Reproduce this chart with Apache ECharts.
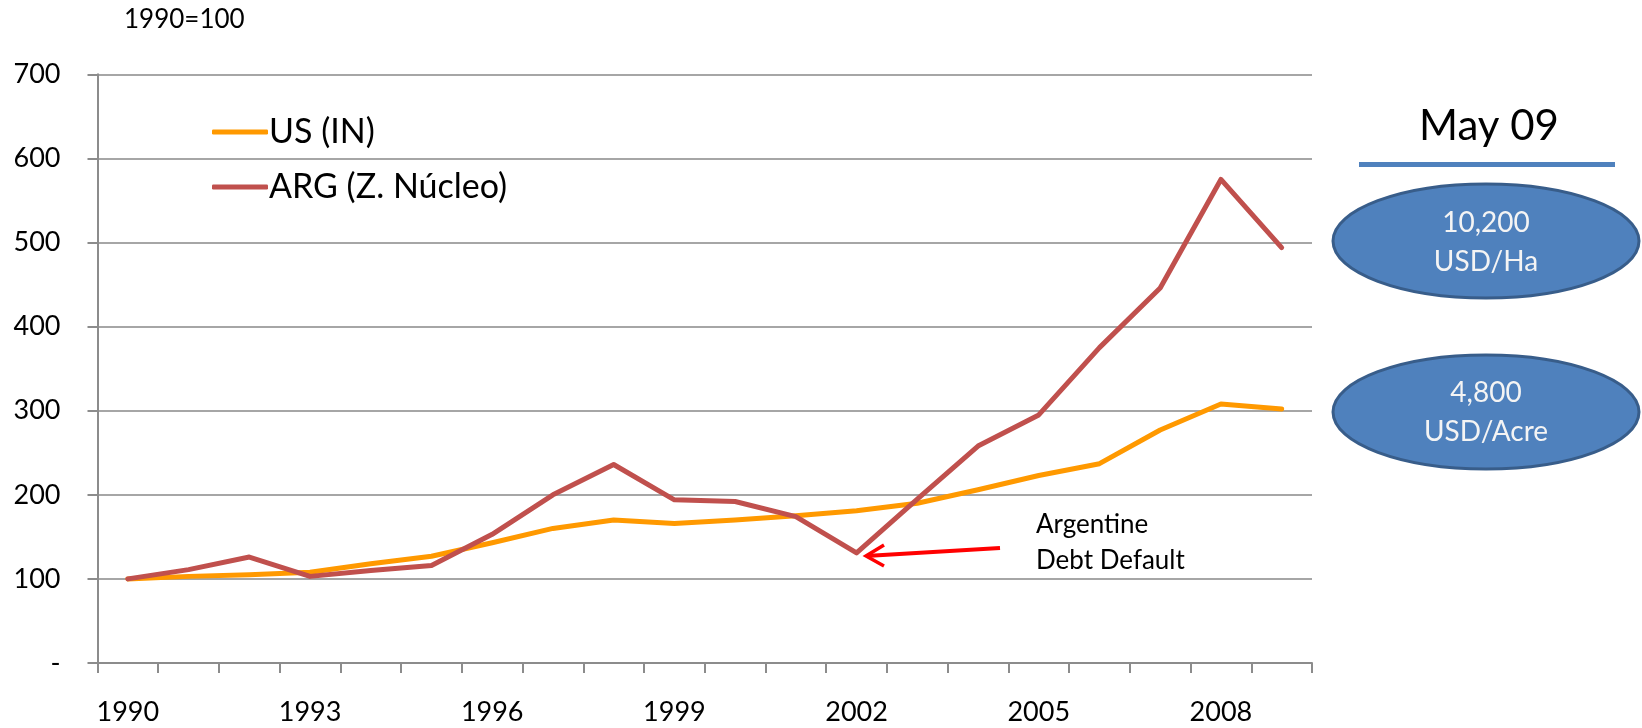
<!DOCTYPE html>
<html>
<head>
<meta charset="utf-8">
<script src="https://cdn.jsdelivr.net/npm/echarts@6/dist/echarts.min.js"></script>
<style>
html,body{margin:0;padding:0;background:#fff;}
#chart{width:1642px;height:728px;}
</style>
</head>
<body>
<div id="chart"></div>
<script>
const years = ['1990','1991','1992','1993','1994','1995','1996','1997','1998','1999','2000','2001','2002','2003','2004','2005','2006','2007','2008','2009'];
const usValues = [100,103,105,108,118,127,143,160,170,166,170,175,181,190,206,223,237,277,308,302];
const argValues = [100,111,126,103,110,116,153,200,236,194,192,174,131,195,258,295,375,446,575,494];
const yTicks = [0,100,200,300,400,500,600,700];
const seriesNames = ['US (IN)','ARG (Z. Núcleo)'];
const boxTitle = 'May 09';
const boxHa = ['10,200','USD/Ha'];
const boxAcre = ['4,800','USD/Acre'];
const annotation = ['Argentine','Debt Default'];

const FONT = 'Lato, "Open Sans", sans-serif';
const chart = echarts.init(document.getElementById('chart'), null, {renderer:'canvas'});

const option = {
  animation:false,
  backgroundColor:'#ffffff',
  textStyle:{fontFamily:FONT},
  grid:{left:97.5, right:330, top:74.3, bottom:65, containLabel:false},
  legend:{
    orient:'vertical', left:207, top:106, itemGap:13,
    itemWidth:56, itemHeight:5, icon:'roundRect',
    textStyle:{fontSize:34, fontFamily:FONT, color:'#000', lineHeight:42, padding:[0,0,0,-4]},
    data:seriesNames
  },
  xAxis:{
    type:'category', data:years, boundaryGap:true,
    axisLine:{lineStyle:{color:'#8c8c8c', width:2}},
    axisTick:{show:true, interval:0, length:10, lineStyle:{color:'#8c8c8c', width:2}},
    axisLabel:{interval:2, margin:36, fontSize:27, color:'#000', fontFamily:FONT},
    splitLine:{show:false}
  },
  yAxis:{
    type:'value', min:yTicks[0], max:yTicks[yTicks.length-1], interval:100,
    axisLine:{show:true, lineStyle:{color:'#8c8c8c', width:2}},
    axisTick:{show:true, length:10, lineStyle:{color:'#8c8c8c', width:2}},
    axisLabel:{margin:37, fontSize:27, color:'#000', fontFamily:FONT,
      formatter:function(v){return v===0?'-':String(v);}},
    splitLine:{show:true, lineStyle:{color:'#a6a6a6', width:2}}
  },
  series:[
    {name:seriesNames[0], type:'line', data:usValues, symbol:'none', color:'#FF9900',
     lineStyle:{width:5, color:'#FF9900', cap:'round', join:'round'}},
    {name:seriesNames[1], type:'line', data:argValues, symbol:'none', color:'#C0504D',
     lineStyle:{width:5, color:'#C0504D', cap:'round', join:'round'}}
  ],
  graphic:[
    {type:'text', left:124, top:7, style:{text:'1990=100', font:'26px '+FONT, fill:'#000'}},
    {type:'text', x:1489, y:126, style:{text:boxTitle, font:'42px '+FONT, fill:'#000', textAlign:'center', textVerticalAlign:'middle'}},
    {type:'rect', shape:{x:1359, y:162, width:256, height:5}, style:{fill:'#4F81BD'}},
    {type:'ellipse', shape:{cx:1486, cy:241, rx:153, ry:57}, style:{fill:'#4F81BD', stroke:'#385D8A', lineWidth:3}},
    {type:'text', x:1486, y:223, style:{text:boxHa[0], font:'28px '+FONT, fill:'#f4f4f4', textAlign:'center', textVerticalAlign:'middle'}},
    {type:'text', x:1486, y:262, style:{text:boxHa[1], font:'28px '+FONT, fill:'#f4f4f4', textAlign:'center', textVerticalAlign:'middle'}},
    {type:'ellipse', shape:{cx:1486, cy:412, rx:153, ry:57}, style:{fill:'#4F81BD', stroke:'#385D8A', lineWidth:3}},
    {type:'text', x:1486, y:393, style:{text:boxAcre[0], font:'28px '+FONT, fill:'#f4f4f4', textAlign:'center', textVerticalAlign:'middle'}},
    {type:'text', x:1486, y:432, style:{text:boxAcre[1], font:'28px '+FONT, fill:'#f4f4f4', textAlign:'center', textVerticalAlign:'middle'}},
    {type:'text', left:1036, top:512, style:{text:annotation[0], font:'26px '+FONT, fill:'#000'}},
    {type:'text', left:1036, top:548, style:{text:annotation[1], font:'26px '+FONT, fill:'#000'}},
    {type:'polyline', shape:{points:[[1000,548],[866,556]]}, style:{stroke:'#FF0000', lineWidth:4, fill:null}},
    {type:'polyline', shape:{points:[[884,545],[866,556],[884,566]]}, style:{stroke:'#FF0000', lineWidth:3.5, fill:null, lineJoin:'miter'}}
  ]
};
chart.setOption(option);
</script>
</body>
</html>
